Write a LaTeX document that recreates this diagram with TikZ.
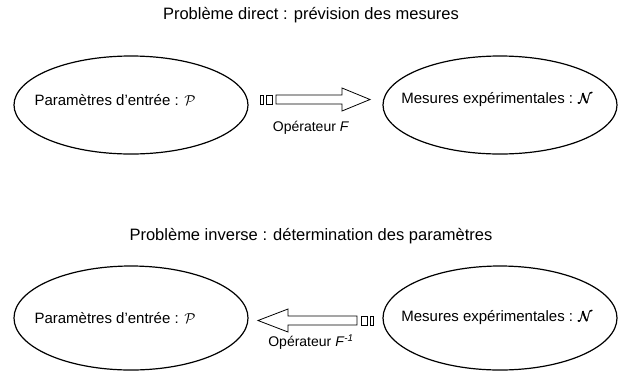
\documentclass[tikz,border=0pt]{standalone}
\usepackage{fontspec}
\setmainfont{Liberation Sans}
\usepackage{amsmath}
\usetikzlibrary{shapes.geometric}
\begin{document}
\begin{tikzpicture}[x=1pt, y=-1pt,
  domaine/.style={draw, line width=1.2pt, ellipse, minimum width=234pt, minimum height=98pt, inner sep=0pt},
  titre/.style={font=\fontsize{16.5}{19}\selectfont},
  etiq/.style={font=\fontsize{15}{18}\selectfont},
  oper/.style={font=\fontsize{14}{17}\selectfont},
  fleche/.style={draw, line width=0.8pt}]
  \useasboundingbox (0,0) rectangle (620,376);
  % probleme direct
  \node[titre] (titreD) at (311,15) {Problème direct : prévision des mesures};
  \node[domaine] (paramD) at (131,105) {};
  \node[etiq] (txtParamD) at (115,100) {Paramètres d’entrée : $\mathcal{P}$};
  \node[domaine] (mesD) at (500,105) {};
  \node[etiq] (txtMesD) at (497,100) {Mesures expérimentales : $\pmb{\mathcal{N}}$};
  \draw[fleche] (260,95) rectangle (263,104);
  \draw[fleche] (266,95) rectangle (272,104);
  \draw[fleche] (276,95) -- (342,95) -- (342,88) -- (370,99.5) -- (342,111) -- (342,104) -- (276,104) -- cycle;
  \node[oper] (opD) at (311,128) {Opérateur \textit{F}};
  % probleme inverse
  \node[titre] (titreI) at (311,236) {Problème inverse : détermination des paramètres};
  \node[domaine, minimum height=104pt] (paramI) at (131,318) {};
  \node[etiq] (txtParamI) at (115,318) {Paramètres d’entrée : $\mathcal{P}$};
  \node[domaine, minimum height=104pt] (mesI) at (500,318) {};
  \node[etiq] (txtMesI) at (497,318) {Mesures expérimentales : $\pmb{\mathcal{N}}$};
  \draw[fleche] (373,316) rectangle (370,325);
  \draw[fleche] (367,316) rectangle (361,325);
  \draw[fleche] (357,316) -- (288,316) -- (288,309) -- (258,320.5) -- (288,332) -- (288,325) -- (357,325) -- cycle;
  \node[oper] (opI) at (311,342) {Opérateur \textit{F}\textsuperscript{\textit{-1}}};
\end{tikzpicture}
\end{document}
